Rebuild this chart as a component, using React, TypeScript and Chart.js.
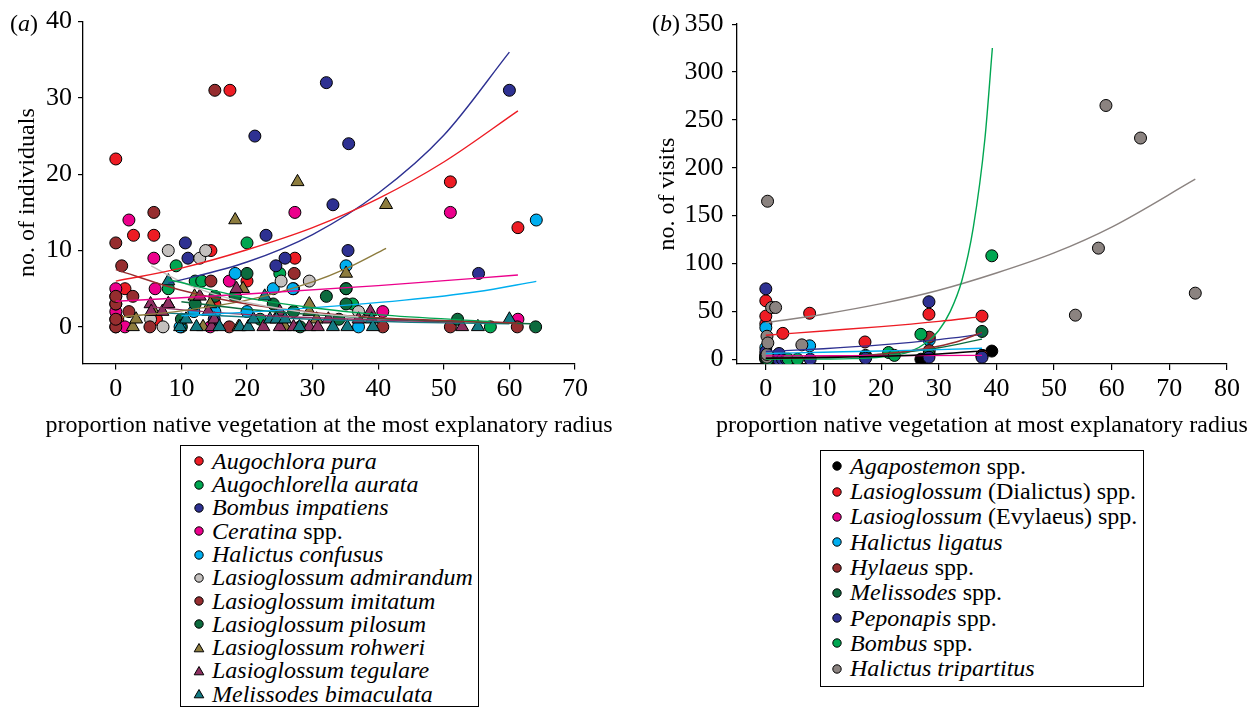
import React, { useEffect, useRef } from 'react';
import { Chart, registerables } from 'chart.js';

Chart.register(...registerables);

const SERIF = '"Liberation Serif", "Times New Roman", serif';

// ---------- Panel (a): no. of individuals ----------
const xTicksA = [0, 10, 20, 30, 40, 50, 60, 70];
const yTicksA = [0, 10, 20, 30, 40];

const augochloraPura = [[0, 22], [0, 4], [0.3, 1], [1.4, 5], [2.7, 12], [5.8, 12], [6.2, 1], [14.5, 10], [15.1, 3], [17.4, 31], [20, 6], [27.3, 9], [51, 19], [61.3, 13]];
const augochlorellaAurata = [[8, 5], [9.2, 8], [10, 0], [12.1, 6], [13.1, 6], [18.2, 4], [20, 11], [22, 1], [25, 7], [35.1, 5], [36.1, 3], [57.1, 0]];
const bombusImpatiens = [[10.6, 11], [11, 9], [15, 1], [21.2, 25], [22.9, 12], [24.4, 8], [25.8, 9], [32.1, 32], [33.1, 16], [35.4, 10], [35.5, 24], [55.3, 7], [60, 31]];
const ceratinaSpp = [[0, 0], [0, 1], [0, 2], [0, 3], [0, 5], [1.4, 0], [2, 14], [5.8, 9], [6, 5], [14.4, 0], [17.3, 6], [27.1, 5], [27.3, 15], [40.7, 2], [51, 15], [61.3, 1]];
const halictusConfusus = [[9.8, 0], [11.9, 2], [15.1, 2], [18.2, 7], [20, 2], [24, 5], [27, 5], [35.1, 8], [37, 0], [64.1, 14]];
const lasAdmirandum = [[5.3, 1], [7.2, 0], [8, 10], [12.8, 9], [13.7, 10], [25.2, 6], [29.5, 6], [37, 2]];
const lasImitatum = [[0, 0], [0, 1], [0, 3], [0, 4], [0, 11], [0.9, 8], [2, 2], [2.6, 4], [5.2, 0], [5.8, 15], [14.5, 6], [15.1, 31], [17.3, 0], [27.2, 7], [40.7, 0], [51, 0], [61.2, 0]];
const lasPilosum = [[10, 1], [12.1, 3], [15.1, 4], [18.2, 4], [20, 7], [24, 3], [27.1, 2], [28.1, 0], [32.1, 4], [34, 1], [35.1, 3], [35.1, 5], [52.1, 1], [64, 0]];
const lasRohweri = [[2.6, 0], [3.1, 1], [5.8, 2], [8, 3], [12, 4], [13.3, 0], [14.4, 3], [18.2, 14], [18.7, 0], [19.4, 5], [25.8, 0], [27.7, 19], [29.5, 2], [29.5, 3], [30.6, 1], [35.1, 7], [41.2, 16]];
const lasTegulare = [[5.3, 3], [5.4, 2], [7.1, 2], [8, 3], [12.8, 4], [14.1, 2], [14.6, 0], [15, 1], [18.4, 5], [22.5, 0], [25, 0], [25, 2], [27.1, 0], [29.5, 0], [30.8, 0], [32.4, 1], [37, 1], [38.8, 2], [52.8, 0]];
const melBimaculata = [[8, 6], [9.8, 0], [10.7, 1], [12.3, 0], [15.8, 0], [18.9, 0], [20.2, 0], [21, 1], [22.7, 4], [23.5, 1], [24.5, 1], [25.8, 1], [28, 0], [33.1, 0], [35.3, 0], [39, 1], [39.2, 0], [55.2, 0], [60, 1]];

// fitted curves
const puraFit = [[0, 6.0], [10, 7.7], [20, 10.1], [30, 13.0], [40, 16.8], [50, 21.6], [61.3, 28.3]];
const aurataFit = [[8, 6.2], [20, 3.8], [30, 2.5], [40, 1.6], [57.1, 0.7]];
const impatiensFit = [[8, 5.7], [20, 8.5], [30, 12.1], [40, 17.5], [50, 25.1], [60, 36.0]];
const ceratinaFit = [[0, 3.35], [20, 4.3], [40, 5.4], [61.3, 6.8]];
const confususFit = [[10, 1.45], [25, 2.2], [44, 3.5], [55, 4.6], [64.1, 5.96]];
const admirandumFit = [[5.4, 8.0], [10, 5.9], [15, 4.3], [20, 3.2], [30, 1.8], [37, 1.3]];
const imitatumFit = [[0, 7.5], [10, 4.8], [20, 3.0], [30, 1.9], [40, 1.2], [61.2, 0.5]];
const pilosumFit = [[10, 3.3], [20, 2.3], [30, 1.6], [40, 1.1], [64, 0.4]];
const rohweriFit = [[1, 1.3], [10, 2.1], [20, 3.5], [30, 5.9], [35, 7.6], [41.2, 10.3]];
const tegulareFit = [[5.3, 2.6], [15, 1.9], [25, 1.4], [40, 0.9], [52.8, 0.6]];
const bimaculataFit = [[8, 1.8], [20, 1.3], [30, 1.0], [45, 0.6], [60, 0.4]];

// ---------- Panel (b): no. of visits ----------
const xTicksB = [0, 10, 20, 30, 40, 50, 60, 70, 80];
const yTicksB = [0, 50, 100, 150, 200, 250, 300, 350];

const agapostemon = [[0, 0], [0, 2], [26.9, 0], [39.2, 8.5]];
const dialictus = [[0, 37], [0, 45], [0, 61], [2.95, 27], [7.6, 48], [17.2, 18], [28.3, 47], [37.5, 45]];
const evylaeus = [[0, 1], [0, 5], [17.3, 2], [37.5, 4]];
const halictusLigatus = [[0, 12], [0, 33], [7.6, 14], [28.35, 20]];
const hylaeus = [[0, 3], [2.2, 5], [17.3, 4], [28.35, 23], [28.35, 9], [37.5, 4]];
const melissodes = [[0, 1], [0, 3], [17.3, 3], [28.3, 5], [37.5, 29]];
const peponapis = [[0, 73.5], [0, 8], [2.2, 0], [2.3, 6], [2.9, 0], [3.6, 0], [7.7, 0], [17.3, 1], [28.3, 60], [28.3, 2], [37.5, 2]];
const bombusSpp = [[0.3, 0], [3.9, 0], [5.5, 0], [21.3, 7], [22.3, 4], [26.9, 26], [39.2, 108]];
const tripartitus = [[0.2, 2], [0.2, 5], [0.2, 24], [0.35, 17], [0.3, 165], [1, 54], [1.7, 54], [6.25, 15], [53.7, 46], [57.7, 116], [59, 265], [65, 231], [74.5, 69]];

const agapostemonFit = [[0, 1], [10, 1.8], [20, 3.1], [30, 5.5], [39.2, 9.5]];
const dialictusFit = [[0, 25], [10, 29.5], [20, 34], [30, 39.5], [37.5, 44.5]];
const evylaeusFit = [[0, 3.5], [37.5, 4]];
const ligatusFit = [[0, 6], [10, 7.3], [20, 8.6], [30, 10], [37.5, 11.5]];
const hylaeusFit = [[0, 0.8], [10, 2.1], [20, 5.3], [28, 11.4], [33, 18], [37.5, 28]];
const melissodesFit = [[0, 1], [10, 2.3], [20, 5.3], [30, 12], [37.5, 21]];
const peponapisFit = [[0, 8], [10, 11], [20, 15], [30, 20.5], [37.5, 26]];
const bombusFit = [[0, 0], [10, 0.2], [15, 0.6], [20, 2.3], [25, 8], [28, 18], [30, 30], [32, 50], [34, 82], [36, 138], [38, 230], [39.3, 325]];
const tripartitusFit = [[0, 38], [10, 47], [20, 58], [30, 72], [40, 90], [50, 111], [60, 138], [74.5, 188]];

// ---------- colours ----------
const RED = '#ed1c24';
const GREEN = '#00a651';
const NAVY = '#2e3192';
const MAGENTA = '#ec008c';
const CYAN = '#00aeef';
const LIGHTGREY = '#c4c0be';
const MAROON = '#962d2f';
const DKGREEN = '#0c6b3e';
const OLIVE = '#8d7c3e';
const PURPLE = '#8e3062';
const TEAL = '#137a83';
const GREY = '#8b8380';
const BLACK = '#000000';

type Series = {
  name: [string, string];
  color: string;
  shape: 'circle' | 'triangle';
  points: number[][];
  fit: number[][];
};

const seriesA: Series[] = [
  { name: ['Augochlora pura', ''], color: RED, shape: 'circle', points: augochloraPura, fit: puraFit },
  { name: ['Augochlorella aurata', ''], color: GREEN, shape: 'circle', points: augochlorellaAurata, fit: aurataFit },
  { name: ['Bombus impatiens', ''], color: NAVY, shape: 'circle', points: bombusImpatiens, fit: impatiensFit },
  { name: ['Ceratina', ' spp.'], color: MAGENTA, shape: 'circle', points: ceratinaSpp, fit: ceratinaFit },
  { name: ['Halictus confusus', ''], color: CYAN, shape: 'circle', points: halictusConfusus, fit: confususFit },
  { name: ['Lasioglossum admirandum', ''], color: LIGHTGREY, shape: 'circle', points: lasAdmirandum, fit: admirandumFit },
  { name: ['Lasioglossum imitatum', ''], color: MAROON, shape: 'circle', points: lasImitatum, fit: imitatumFit },
  { name: ['Lasioglossum pilosum', ''], color: DKGREEN, shape: 'circle', points: lasPilosum, fit: pilosumFit },
  { name: ['Lasioglossum rohweri', ''], color: OLIVE, shape: 'triangle', points: lasRohweri, fit: rohweriFit },
  { name: ['Lasioglossum tegulare', ''], color: PURPLE, shape: 'triangle', points: lasTegulare, fit: tegulareFit },
  { name: ['Melissodes bimaculata', ''], color: TEAL, shape: 'triangle', points: melBimaculata, fit: bimaculataFit },
];

const seriesB: Series[] = [
  { name: ['Agapostemon', ' spp.'], color: BLACK, shape: 'circle', points: agapostemon, fit: agapostemonFit },
  { name: ['Lasioglossum', ' (Dialictus) spp.'], color: RED, shape: 'circle', points: dialictus, fit: dialictusFit },
  { name: ['Lasioglossum', ' (Evylaeus) spp.'], color: MAGENTA, shape: 'circle', points: evylaeus, fit: evylaeusFit },
  { name: ['Halictus ligatus', ''], color: CYAN, shape: 'circle', points: halictusLigatus, fit: ligatusFit },
  { name: ['Hylaeus', ' spp.'], color: MAROON, shape: 'circle', points: hylaeus, fit: hylaeusFit },
  { name: ['Melissodes', ' spp.'], color: DKGREEN, shape: 'circle', points: melissodes, fit: melissodesFit },
  { name: ['Peponapis', ' spp.'], color: NAVY, shape: 'circle', points: peponapis, fit: peponapisFit },
  { name: ['Bombus', ' spp.'], color: GREEN, shape: 'circle', points: bombusSpp, fit: bombusFit },
  { name: ['Halictus tripartitus', ''], color: GREY, shape: 'circle', points: tripartitus, fit: tripartitusFit },
];

type PanelCfg = {
  series: Series[];
  xMin: number; xMax: number; yMin: number; yMax: number;
  xTicks: number[]; yTicks: number[];
  xTitle: string; yTitle: string;
  width: number; height: number;
  yAxisWidth: number; padTop: number; padRight: number; xAxisHeight: number;
  yTickPad: number; pointR: number; triR: number; xTitleY: number;
};

function buildConfig(p: PanelCfg): any {
  const datasets: any[] = [];
  p.series.forEach((s, i) => {
    datasets.push({
      type: 'scatter',
      data: s.points.map(([x, y]) => ({ x, y })),
      pointStyle: s.shape,
      pointRadius: s.shape === 'triangle' ? p.triR : p.pointR,
      pointBackgroundColor: s.color,
      pointBorderColor: '#000',
      pointBorderWidth: 1,
      showLine: false,
      order: 100 - i,
    });
  });
  p.series.forEach((s) => {
    datasets.push({
      type: 'scatter',
      data: s.fit.map(([x, y]) => ({ x, y })),
      showLine: true,
      pointRadius: 0,
      borderColor: s.color,
      borderWidth: 1.4,
      cubicInterpolationMode: 'monotone',
      order: -1,
    });
  });
  const tickFont = { family: SERIF, size: 26 };
  const titleFont = { family: SERIF, size: 24 };
  // x-axis title drawn at its natural width (Chart.js would squeeze it to the axis width)
  const xTitlePlugin = {
    id: 'xTitleFree',
    afterDraw(chart: any) {
      const { ctx, chartArea } = chart;
      ctx.save();
      ctx.font = `24px ${SERIF}`;
      ctx.fillStyle = '#000';
      ctx.textAlign = 'center';
      ctx.textBaseline = 'middle';
      ctx.fillText(p.xTitle, (chartArea.left + chartArea.right) / 2, p.xTitleY);
      ctx.restore();
    },
  };
  return {
    type: 'scatter',
    data: { datasets },
    plugins: [xTitlePlugin],
    options: {
      responsive: false,
      animation: false,
      events: [],
      layout: { padding: { left: 0, top: p.padTop, right: p.padRight, bottom: 0 } },
      plugins: { legend: { display: false }, tooltip: { enabled: false } },
      scales: {
        x: {
          type: 'linear',
          min: p.xMin,
          max: p.xMax,
          afterBuildTicks: (sc: any) => { sc.ticks = p.xTicks.map((v) => ({ value: v })); },
          afterFit: (sc: any) => { sc.height = p.xAxisHeight; },
          grid: { display: true, drawOnChartArea: false, drawTicks: true, tickLength: 6, color: '#000', lineWidth: 1.2 },
          border: { display: true, color: '#000', width: 1.3 },
          ticks: { color: '#000', font: tickFont, padding: 4, maxRotation: 0, autoSkip: false },
          title: { display: false },
        },
        y: {
          type: 'linear',
          min: p.yMin,
          max: p.yMax,
          afterBuildTicks: (sc: any) => { sc.ticks = p.yTicks.map((v) => ({ value: v })); },
          afterFit: (sc: any) => { sc.width = p.yAxisWidth; },
          grid: { display: true, drawOnChartArea: false, drawTicks: true, tickLength: 5, color: '#000', lineWidth: 1.2 },
          border: { display: true, color: '#000', width: 1.3 },
          ticks: { color: '#000', font: tickFont, padding: p.yTickPad, autoSkip: false },
          title: { display: true, text: p.yTitle, color: '#000', font: titleFont, padding: { top: 13.5, bottom: 0 } },
        },
      },
    },
  };
}

function Panel({ cfg, left }: { cfg: PanelCfg; left: number }) {
  const ref = useRef<HTMLCanvasElement | null>(null);
  useEffect(() => {
    if (!ref.current) return;
    const chart = new Chart(ref.current, buildConfig(cfg));
    return () => chart.destroy();
  }, [cfg]);
  return (
    <canvas
      ref={ref}
      width={cfg.width}
      height={cfg.height}
      style={{ position: 'absolute', left, top: 0, width: cfg.width, height: cfg.height }}
    />
  );
}

function Marker({ color, shape }: { color: string; shape: 'circle' | 'triangle' }) {
  return (
    <svg width={12} height={12} style={{ position: 'absolute', left: 0, top: '50%', marginTop: -6 }}>
      {shape === 'circle' ? (
        <circle cx={6} cy={6} r={4.2} fill={color} stroke="#000" strokeWidth={1} />
      ) : (
        <polygon points="6,1.5 10.8,9.8 1.2,9.8" fill={color} stroke="#000" strokeWidth={1} />
      )}
    </svg>
  );
}

function LegendBox(props: {
  series: Series[]; left: number; top: number; width: number; height: number;
  firstCenter: number; rowH: number; fontSize: number; markerLeft: number; textLeft: number;
}) {
  const { series, left, top, width, height, firstCenter, rowH, fontSize, markerLeft, textLeft } = props;
  return (
    <div
      style={{
        position: 'absolute', left, top, width, height, boxSizing: 'border-box',
        border: '1.3px solid #000', fontFamily: SERIF, fontSize, color: '#000', background: '#fff',
      }}
    >
      {series.map((s, i) => (
        <div
          key={i}
          style={{
            position: 'absolute', left: 0, right: 0,
            top: firstCenter - top - rowH / 2 + i * rowH - 1.3,
            height: rowH, lineHeight: rowH + 'px', whiteSpace: 'nowrap',
          }}
        >
          <div style={{ position: 'absolute', left: markerLeft - 6, top: 0, height: rowH, width: 12 }}>
            <Marker color={s.color} shape={s.shape} />
          </div>
          <span style={{ position: 'absolute', left: textLeft }}>
            <i>{s.name[0]}</i>
            {s.name[1]}
          </span>
        </div>
      ))}
    </div>
  );
}

const panelA: PanelCfg = {
  series: seriesA,
  xMin: -5, xMax: 70, yMin: -4.8, yMax: 40,
  xTicks: xTicksA, yTicks: yTicksA,
  xTitle: 'proportion native vegetation at the most explanatory radius',
  yTitle: 'no. of individuals',
  width: 640, height: 440,
  yAxisWidth: 83, padTop: 20, padRight: 65, xAxisHeight: 76.5,
  yTickPad: 6, pointR: 6, triR: 7.5, xTitleY: 426,
};

const panelB: PanelCfg = {
  series: seriesB,
  xMin: -5, xMax: 80, yMin: -5, yMax: 350,
  xTicks: xTicksB, yTicks: yTicksB,
  xTitle: 'proportion native vegetation at most explanatory radius',
  yTitle: 'no. of visits',
  width: 616, height: 440,
  yAxisWidth: 97, padTop: 22, padRight: 29, xAxisHeight: 76,
  yTickPad: 8.5, pointR: 6, triR: 7.5, xTitleY: 426,
};

export default function App() {
  return (
    <div style={{ position: 'fixed', left: 0, top: 0, width: 1256, height: 708, background: '#fff', overflow: 'hidden' }}>
      <Panel cfg={panelA} left={0} />
      <Panel cfg={panelB} left={640} />
      <div style={{ position: 'absolute', left: 10, top: 9, fontFamily: SERIF, fontSize: 24, lineHeight: '28px', color: '#000' }}>
        (<i>a</i>)
      </div>
      <div style={{ position: 'absolute', left: 652, top: 9, fontFamily: SERIF, fontSize: 24, lineHeight: '28px', color: '#000' }}>
        (<i>b</i>)
      </div>
      <LegendBox series={seriesA} left={180} top={445} width={299} height={262} firstCenter={461.7} rowH={23.3} fontSize={24} markerLeft={18} textLeft={31} />
      <LegendBox series={seriesB} left={820} top={450} width={324} height={237} firstCenter={466.7} rowH={25.3} fontSize={24} markerLeft={16} textLeft={29} />
    </div>
  );
}
